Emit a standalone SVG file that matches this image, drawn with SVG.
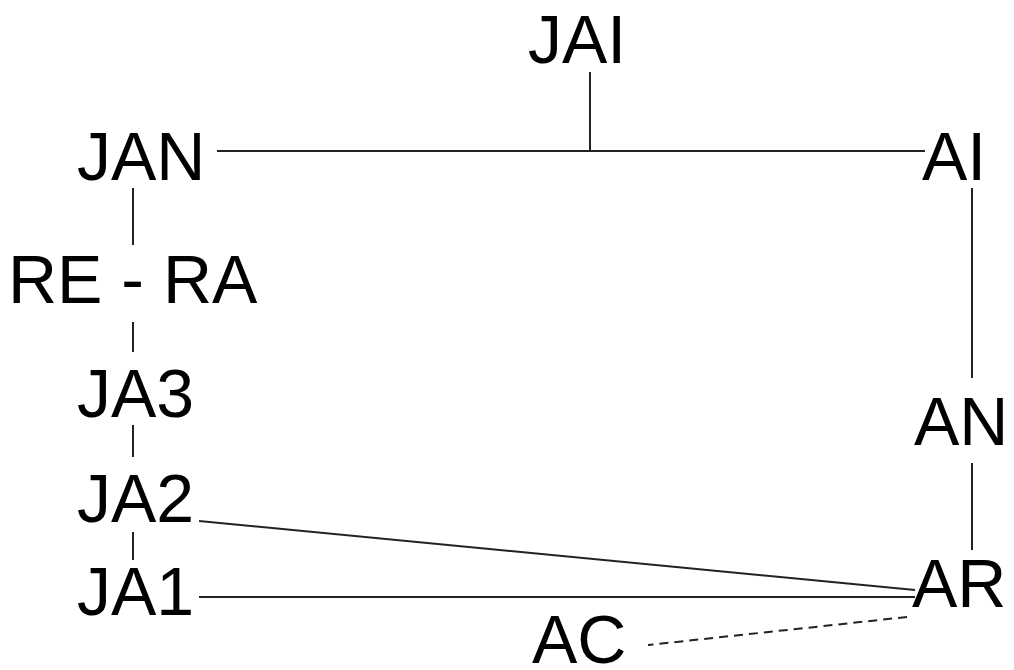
<svg xmlns="http://www.w3.org/2000/svg" width="1014" height="670" viewBox="0 0 1014 670">
<style>
.t{font-family:"Liberation Sans",Arial,sans-serif;font-size:68px;fill:#000}
.c line{stroke:#222;stroke-width:2;fill:none}
.d{stroke-dasharray:9,6}
</style>
<rect width="1014" height="670" fill="#fff"/>
<g class="c" id="connectors">
<line x1="590" y1="72" x2="590" y2="151"/>
<line x1="217" y1="151" x2="925" y2="151"/>
<line x1="133" y1="188" x2="133" y2="245"/>
<line x1="133" y1="322" x2="133" y2="352"/>
<line x1="133" y1="425" x2="133" y2="457"/>
<line x1="133" y1="532" x2="133" y2="560"/>
<line x1="972" y1="188" x2="972" y2="378"/>
<line x1="972" y1="463" x2="972" y2="550"/>
<line x1="199" y1="521" x2="915" y2="590"/>
<line x1="199" y1="597" x2="915" y2="597"/>
<line class="d" x1="907" y1="617" x2="648" y2="645"/>
</g>
<g id="JAI"><text class="t" x="528" y="63">JAI</text></g>
<g id="JAN"><text class="t" x="77" y="180">JAN</text></g>
<g id="RERA"><text class="t" x="8" y="303">RE - RA</text></g>
<g id="JA3"><text class="t" x="77" y="417">JA3</text></g>
<g id="JA2"><text class="t" x="77" y="522">JA2</text></g>
<g id="JA1"><text class="t" x="77" y="615">JA1</text></g>
<g id="AI"><text class="t" x="922" y="180">AI</text></g>
<g id="AN"><text class="t" x="914" y="445">AN</text></g>
<g id="AR"><text class="t" x="912" y="607">AR</text></g>
<g id="AC"><text class="t" x="532" y="663">AC</text></g>
</svg>
